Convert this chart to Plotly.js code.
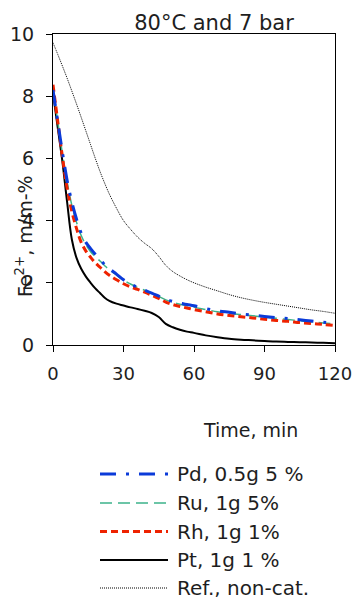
<!DOCTYPE html>
<html>
<head>
<meta charset="utf-8">
<script src="https://cdn.plot.ly/plotly-3.0.1.min.js"></script>
<style>html,body{margin:0;padding:0;background:#fff;}#chart{width:353px;height:599px;}</style>
</head>
<body>
<div id="chart"></div>
<script>
var time = [0,2,4,6,8,10,12,14,16,18,20,22,24,27,30,33,36,39,42,45,48,51,54,57,60,65,70,75,80,85,90,95,100,105,110,115,120];
var pd  = [8.2,7.2,6.2,5.3,4.6,4.05,3.6,3.3,3.1,2.92,2.76,2.58,2.45,2.28,2.1,1.97,1.85,1.76,1.67,1.57,1.47,1.4,1.35,1.3,1.26,1.17,1.1,1.05,1.0,0.96,0.92,0.88,0.85,0.81,0.77,0.73,0.69];
var ru  = [8.25,7.2,6.15,5.25,4.5,3.95,3.52,3.22,3.0,2.84,2.7,2.55,2.42,2.25,2.08,1.96,1.85,1.76,1.67,1.56,1.45,1.37,1.31,1.26,1.21,1.14,1.07,1.02,0.98,0.94,0.9,0.86,0.82,0.78,0.74,0.71,0.68];
var rh  = [8.37,7.2,6.05,5.05,4.3,3.75,3.3,3.02,2.82,2.64,2.5,2.36,2.24,2.1,1.97,1.87,1.79,1.7,1.6,1.5,1.38,1.3,1.24,1.19,1.14,1.07,1.0,0.95,0.91,0.87,0.83,0.79,0.76,0.72,0.69,0.66,0.63];
var pt  = [8.1,7.0,5.9,4.6,3.4,2.8,2.45,2.2,2.0,1.82,1.67,1.52,1.42,1.33,1.27,1.21,1.16,1.1,1.03,0.9,0.68,0.57,0.49,0.43,0.39,0.31,0.25,0.2,0.17,0.15,0.13,0.11,0.1,0.09,0.08,0.07,0.06];
var ref = [9.72,9.35,8.97,8.58,8.17,7.75,7.32,6.88,6.44,6.0,5.58,5.2,4.85,4.4,4.0,3.72,3.47,3.27,3.1,2.85,2.56,2.36,2.22,2.1,2.0,1.86,1.74,1.62,1.52,1.44,1.37,1.31,1.25,1.19,1.13,1.08,1.02];
var seriesNames = ["Pd, 0.5g 5 %","Ru, 1g 5%","Rh, 1g 1%","Pt, 1g 1 %","Ref., non-cat."];
var xTicks = [0,30,60,90,120];
var yTicks = [0,2,4,6,8,10];

var FONT = "DejaVu Sans, sans-serif";
var TXT = "#1e1e1e";
var styles = [
  {color:"#0b3bd9", width:3, dash:"16px,10px,3px,10px"},
  {color:"#3cb38a", width:1.5, dash:"12px,6px"},
  {color:"#ee2200", width:3, dash:"7px,4px"},
  {color:"#000000", width:2, dash:"solid"},
  {color:"#000000", width:1, dash:"1px,1px"}
];
var ys = [pd, ru, rh, pt, ref];
var order = [4,3,1,2,0];
var traces = order.map(function(i){
  return {x: time, y: ys[i], name: seriesNames[i], type: "scatter", mode: "lines",
          line: {color: styles[i].color, width: styles[i].width, dash: styles[i].dash, shape: "spline"},
          showlegend: false, hoverinfo: "skip", cliponaxis: false};
});

var W = 353, H = 599;
var plotTop = 34, plotBottom = 345, plotLeft = 53, plotW = 282;
var legendY = [474, 503, 531.5, 560, 588];
var shapes = [];
var annotations = [];
for (var i = 0; i < seriesNames.length; i++) {
  var py = (plotBottom - legendY[i]) / (plotBottom - plotTop);
  shapes.push({type:"line", xref:"paper", yref:"paper", x0:(100-plotLeft)/plotW, x1:(168-plotLeft)/plotW, y0:py, y1:py,
    line:{color: styles[i].color, width: styles[i].width, dash: styles[i].dash}});
  annotations.push({xref:"paper", yref:"paper", x:(175-plotLeft)/plotW, y:py, xanchor:"left", yanchor:"middle",
    text: seriesNames[i], showarrow:false, font:{family:FONT, size:20, color:TXT}});
}
annotations.push({xref:"paper", yref:"paper", x:(250-plotLeft)/plotW, y:(plotBottom-430)/(plotBottom-plotTop), xanchor:"center", yanchor:"middle",
  text:"Time, min", showarrow:false, font:{family:FONT, size:19, color:TXT}});
annotations.push({xref:"paper", yref:"paper", x:(24-plotLeft)/plotW, y:(plotBottom-236)/(plotBottom-plotTop), xanchor:"center", yanchor:"middle",
  text:"Fe<sup>2+</sup>, m/m-%", textangle:-90, showarrow:false, font:{family:FONT, size:19, color:TXT}});

var layout = {
  width: W, height: H,
  margin: {l:53, r:18, t:34, b:254, pad:0},
  paper_bgcolor:"#fff", plot_bgcolor:"#fff",
  showlegend:false,
  font:{family:FONT, size:18, color:TXT},
  title:{text:"80°C and 7 bar", xref:"container", yref:"container", x:214/W, y:1-23/H, xanchor:"center", yanchor:"middle",
    font:{family:FONT, size:21, color:TXT}},
  xaxis:{range:[0,120], tickvals:xTicks, ticktext:xTicks.map(String), ticks:"outside", ticklen:6, tickwidth:1, tickcolor:"#000",
    showline:true, linecolor:"#000", linewidth:1, mirror:true, showgrid:false, zeroline:false,
    tickfont:{family:FONT, size:18, color:TXT}, ticklabelstandoff:6},
  yaxis:{range:[0,10], tickvals:yTicks, ticktext:yTicks.map(String), ticks:"outside", ticklen:6, tickwidth:1, tickcolor:"#000",
    showline:true, linecolor:"#000", linewidth:1, mirror:true, showgrid:false, zeroline:false,
    tickfont:{family:FONT, size:19, color:TXT}, ticklabelstandoff:8},
  shapes: shapes,
  annotations: annotations
};
Plotly.newPlot("chart", traces, layout, {staticPlot:true, displayModeBar:false});
</script>
</body>
</html>
